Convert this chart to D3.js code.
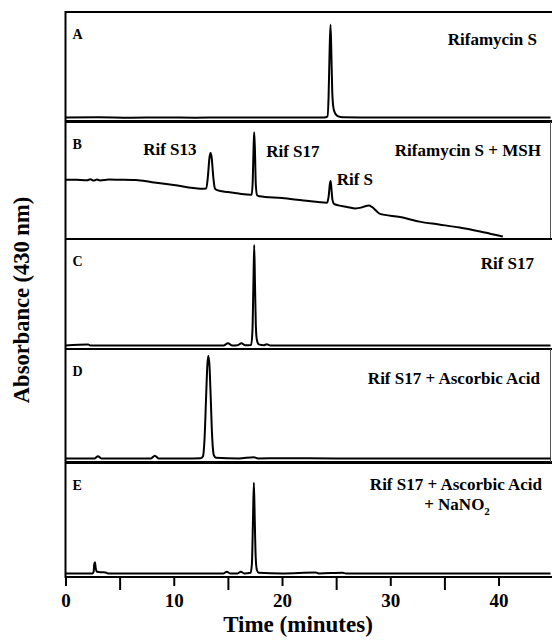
<!DOCTYPE html>
<html>
<head>
<meta charset="utf-8">
<script src="https://cdn.jsdelivr.net/npm/d3@7"></script>
<style>
  body { margin: 0; background: #fff; }
  svg text { font-family: "Liberation Serif", "Tinos", "Times New Roman", "DejaVu Serif", serif; font-weight: bold; fill: #000; }
</style>
</head>
<body>
<div id="chart"></div>
<script>
// chromatogram values: [time (min), relative absorbance]
var majorTicks = [0, 10, 20, 30, 40];
var minorTicks = [5, 15, 25, 35];
var panelLetters = ["A", "B", "C", "D", "E"];
var panelTitles = ["Rifamycin S", "Rifamycin S + MSH", "Rif S17", "Rif S17 + Ascorbic Acid", "Rif S17 + Ascorbic Acid"];
var peakNamesB = ["Rif S13", "Rif S17", "Rif S"];
var peakTimesB = [13.4, 17.43, 24.49];

var traceA = [[0,0.01],[3,0.012],[6,0.008],[9,0.01],[12,0.008],[15,0.01],[18,0.009],[21,0.01],[23.9,0.01],
  [24.2,0.02],[24.3,0.2],[24.4,0.65],[24.48,0.88],[24.56,0.6],[24.64,0.25],[24.75,0.1],[24.9,0.05],
  [25.2,0.02],[25.6,0.012],[28,0.01],[32,0.01],[36,0.01],[40,0.01],[44.8,0.01]];

var traceB = [[0,0.496],[1,0.495],[2,0.492],[2.3,0.5],[2.6,0.488],[2.9,0.497],[3.2,0.49],[4,0.497],[5,0.496],[6.5,0.494],
  [8,0.474],[10,0.45],[12.5,0.418],[13.0,0.42],[13.15,0.52],[13.3,0.69],[13.4,0.73],[13.5,0.69],[13.65,0.52],
  [13.8,0.42],[14.0,0.405],[15,0.388],[16,0.375],[17.1,0.365],[17.2,0.365],[17.3,0.5],[17.38,0.8],[17.43,0.91],
  [17.5,0.75],[17.58,0.45],[17.7,0.36],[17.9,0.352],[20,0.336],[22,0.315],[24.15,0.295],[24.32,0.36],[24.42,0.46],
  [24.49,0.485],[24.56,0.42],[24.66,0.32],[24.8,0.285],[25.2,0.272],[26.0,0.258],[26.8,0.245],[27.3,0.252],
  [27.7,0.265],[28.0,0.27],[28.3,0.258],[28.7,0.225],[29.0,0.2],[30.9,0.17],[32.7,0.13],[34.5,0.105],
  [36.4,0.078],[38.3,0.043],[40.1,0.006],[40.4,0]];

var traceC = [[0,0.01],[2.1,0.018],[2.3,0.01],[6,0.01],[10,0.01],[14.6,0.01],[15.0,0.03],[15.4,0.01],[15.9,0.012],
  [16.25,0.03],[16.6,0.012],[17.15,0.015],[17.27,0.15],[17.36,0.6],[17.43,0.944],[17.5,0.6],[17.58,0.2],
  [17.68,0.06],[17.85,0.02],[18.3,0.012],[18.6,0.02],[18.9,0.01],[22,0.01],[30,0.01],[44.8,0.01]];

var traceD = [[0,0.01],[2.7,0.01],[3.0,0.03],[3.3,0.01],[6,0.01],[7.9,0.01],[8.25,0.035],[8.6,0.01],[11,0.01],
  [12.5,0.012],[12.7,0.03],[12.85,0.2],[13.0,0.6],[13.1,0.85],[13.19,0.938],[13.3,0.85],[13.4,0.6],[13.55,0.2],
  [13.7,0.04],[13.9,0.015],[16,0.01],[17.4,0.02],[17.8,0.01],[20,0.012],[25,0.01],[44.8,0.01]];

var traceE = [[0,0.01],[2.5,0.01],[2.6,0.025],[2.65,0.09],[2.72,0.11],[2.8,0.05],[2.9,0.025],[3.3,0.02],[3.7,0.018],
  [4.0,0.008],[8,0.01],[12,0.01],[14.6,0.01],[14.9,0.025],[15.2,0.01],[15.9,0.01],[16.2,0.025],[16.5,0.01],
  [17.1,0.015],[17.22,0.1],[17.32,0.5],[17.4,0.822],[17.48,0.5],[17.57,0.15],[17.68,0.04],[17.85,0.015],
  [20,0.01],[23.1,0.018],[23.4,0.01],[25.6,0.015],[25.9,0.01],[30,0.01],[44.8,0.01]];

var traces = [traceA, traceB, traceC, traceD, traceE];

// layout
var width = 552, height = 644;
var panelTops = [12, 122, 239, 349, 463];
var panelBottoms = [121, 239, 349, 462, 577];
var rightBorder = [false, true, false, true, false];
var left = 65.5, right = 550.5;

var svg = d3.select("#chart").append("svg")
    .attr("width", width)
    .attr("height", height);

var x = d3.scaleLinear().domain([0, 44.8]).range([left, right]);

traces.forEach(function(data, i) {
    var top = panelTops[i], bottom = panelBottoms[i];
    var y = d3.scaleLinear().domain([0, 1]).range([bottom - 2.5, top]);
    var g = svg.append("g");

    // frame
    g.append("line").attr("x1", left).attr("x2", width).attr("y1", top).attr("y2", top)
        .attr("stroke", "#000").attr("stroke-width", 2);
    g.append("line").attr("x1", left).attr("x2", width).attr("y1", bottom).attr("y2", bottom)
        .attr("stroke", "#000").attr("stroke-width", 2);
    if (rightBorder[i]) {
        g.append("line").attr("x1", right).attr("x2", right).attr("y1", top).attr("y2", bottom)
            .attr("stroke", "#555").attr("stroke-width", 1);
    }

    g.append("path")
        .datum(data)
        .attr("fill", "none")
        .attr("stroke", "#000")
        .attr("stroke-width", 2)
        .attr("stroke-linejoin", "round")
        .attr("d", d3.line()
            .curve(d3.curveMonotoneX)
            .x(function(d) { return x(d[0]); })
            .y(function(d) { return y(d[1]); }));

    g.append("text")
        .attr("x", 72.5)
        .attr("y", top + 27)
        .attr("font-size", 14)
        .text(panelLetters[i]);
});

// panel titles (right aligned)
var titleX = [537, 541, 534, 540, 542];
var titleY = [45, 156, 269, 384, 490];
panelTitles.forEach(function(t, i) {
    svg.append("text")
        .attr("x", titleX[i])
        .attr("y", titleY[i])
        .attr("text-anchor", "end")
        .attr("font-size", 17)
        .text(t);
});
var na = svg.append("text").attr("x", 457).attr("y", 510).attr("text-anchor", "middle").attr("font-size", 17);
na.append("tspan").text("+ NaNO");
na.append("tspan").attr("font-size", 11).attr("dy", 5).text("2");

// peak labels in panel B
var peakDx = [-14, 12, 6];
var peakAnchor = ["end", "start", "start"];
var peakY = [155, 157, 185];
peakNamesB.forEach(function(n, i) {
    svg.append("text")
        .attr("x", x(peakTimesB[i]) + peakDx[i])
        .attr("y", peakY[i])
        .attr("text-anchor", peakAnchor[i])
        .attr("font-size", 17)
        .text(n);
});

// left axis line
svg.append("line").attr("x1", left).attr("x2", left).attr("y1", 11).attr("y2", 578)
    .attr("stroke", "#000").attr("stroke-width", 2);

// x axis
var axisY = panelBottoms[4];
var xAxis = svg.append("g")
    .attr("transform", "translate(0," + axisY + ")")
    .call(d3.axisBottom(x).tickValues(majorTicks).tickSize(9).tickPadding(8).tickFormat(d3.format("d")));
xAxis.attr("font-family", null);
xAxis.select(".domain").remove();
xAxis.selectAll("line").attr("stroke-width", 2);
xAxis.selectAll("text").attr("font-size", 19).attr("fill", "#000");

var minorAxis = svg.append("g")
    .attr("transform", "translate(0," + axisY + ")")
    .call(d3.axisBottom(x).tickValues(minorTicks).tickSize(13).tickFormat(""));
minorAxis.select(".domain").remove();
minorAxis.selectAll("line").attr("stroke-width", 2);

// axis titles
svg.append("text")
    .attr("x", 298)
    .attr("y", 632)
    .attr("text-anchor", "middle")
    .attr("font-size", 23)
    .text("Time  (minutes)");

svg.append("text")
    .attr("transform", "translate(29,300) rotate(-90)")
    .attr("text-anchor", "middle")
    .attr("font-size", 22.5)
    .text("Absorbance (430 nm)");
</script>
</body>
</html>
